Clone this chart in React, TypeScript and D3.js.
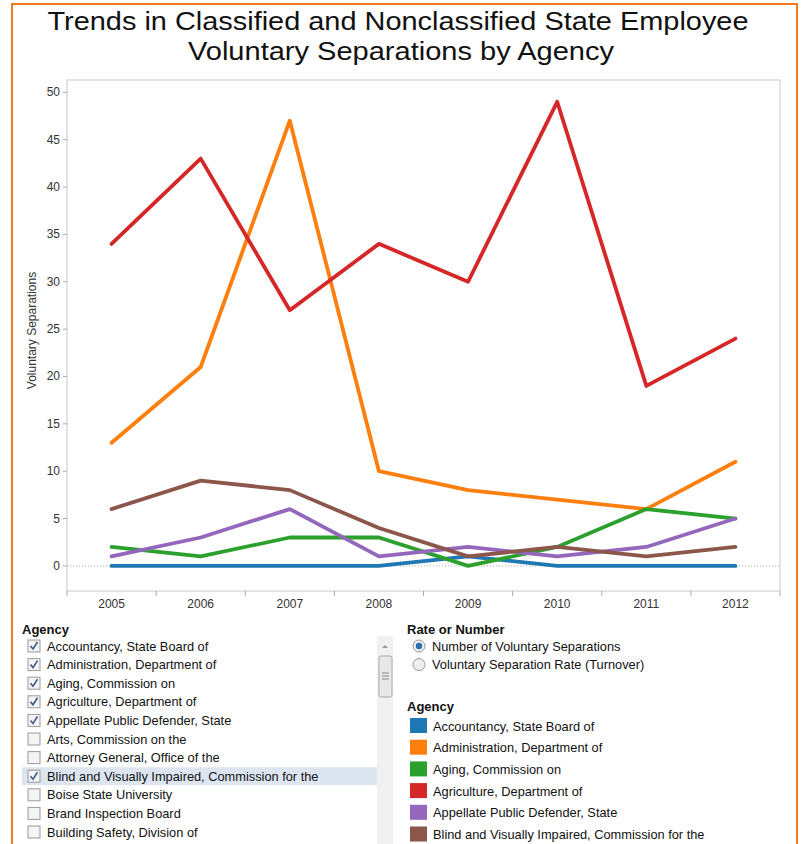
import * as d3 from 'd3'
import { type ReactElement } from 'react'

const years = ['2005', '2006', '2007', '2008', '2009', '2010', '2011', '2012']

const agencies = [
  'Accountancy, State Board of',
  'Administration, Department of',
  'Aging, Commission on',
  'Agriculture, Department of',
  'Appellate Public Defender, State',
  'Blind and Visually Impaired, Commission for the',
]

const accountancy = [0, 0, 0, 0, 1, 0, 0, 0]
const administration = [13, 21, 47, 10, 8, 7, 6, 11]
const aging = [2, 1, 3, 3, 0, 2, 6, 5]
const agriculture = [34, 43, 27, 34, 30, 49, 19, 24]
const appellate = [1, 3, 6, 1, 2, 1, 2, 5]
const blind = [6, 9, 8, 4, 1, 2, 1, 2]

const seriesValues = [accountancy, administration, aging, agriculture, appellate, blind]
const seriesColors = ['#1f77b4', '#ff7f0e', '#2ca02c', '#d62728', '#9467bd', '#8c564b']

const yTicks = [0, 5, 10, 15, 20, 25, 30, 35, 40, 45, 50]

const filterList = [
  { name: 'Accountancy, State Board of', checked: true },
  { name: 'Administration, Department of', checked: true },
  { name: 'Aging, Commission on', checked: true },
  { name: 'Agriculture, Department of', checked: true },
  { name: 'Appellate Public Defender, State', checked: true },
  { name: 'Arts, Commission on the', checked: false },
  { name: 'Attorney General, Office of the', checked: false },
  { name: 'Blind and Visually Impaired, Commission for the', checked: true },
  { name: 'Boise State University', checked: false },
  { name: 'Brand Inspection Board', checked: false },
  { name: 'Building Safety, Division of', checked: false },
  { name: '', checked: false },
]

const rateOptions = ['Number of Voluntary Separations', 'Voluntary Separation Rate (Turnover)']

const titleLines = [
  'Trends in Classified and Nonclassified State Employee',
  'Voluntary Separations by Agency',
]

const font = '"Liberation Sans", Arial, sans-serif'

export default function App(): ReactElement {
  const width = 802
  const height = 844
  const plot = { left: 67, right: 780, top: 80, bottom: 591 }

  const x = d3.scaleBand<string>().domain(years).range([plot.left, plot.right])
  const y = d3.scaleLinear().domain([-2.65, 51.3]).range([plot.bottom, plot.top])

  const line = d3
    .line<number>()
    .x((_, i) => (x(years[i]) ?? 0) + x.bandwidth() / 2)
    .y((d) => y(d))

  const rowY = d3.scaleLinear().domain([0, 1]).range([646, 664.6])
  const legendY = d3.scaleLinear().domain([0, 1]).range([726, 747.7])

  return (
    <div style={{ position: 'absolute', left: 0, top: 0 }}>
      <svg width={width} height={height} style={{ display: 'block', fontFamily: font }}>
        <rect width={width} height={height} fill="#fff" />
        {/* frame */}
        <rect x={12} y={4} width={785} height={880} fill="none" stroke="#f07d1a" strokeWidth={2} />

        <text
          x={398}
          y={30}
          textAnchor="middle"
          fontSize={25}
          fill="#111"
          textLength={701}
          lengthAdjust="spacingAndGlyphs"
        >
          {titleLines[0]}
        </text>
        <text
          x={401}
          y={60}
          textAnchor="middle"
          fontSize={25}
          fill="#111"
          textLength={426}
          lengthAdjust="spacingAndGlyphs"
        >
          {titleLines[1]}
        </text>

        {/* plot frame */}
        <rect
          x={plot.left}
          y={plot.top}
          width={plot.right - plot.left}
          height={plot.bottom - plot.top}
          fill="none"
          stroke="#c8c8c8"
        />
        <line x1={plot.left} x2={plot.right} y1={y(0)} y2={y(0)} stroke="#aaa" strokeDasharray="1,2" />

        {yTicks.map((t) => (
          <g key={t}>
            <line x1={plot.left - 4} x2={plot.left} y1={y(t)} y2={y(t)} stroke="#aaa" />
            <text x={plot.left - 7} y={y(t) + 4} textAnchor="end" fontSize={12} fill="#333">
              {t}
            </text>
          </g>
        ))}
        <text
          transform={`translate(36,${(plot.top + plot.bottom) / 2 - 5}) rotate(-90)`}
          textAnchor="middle"
          fontSize={12}
          fill="#333"
        >
          Voluntary Separations
        </text>

        {years.map((yr) => (
          <g key={yr}>
            <line
              x1={x(yr)}
              x2={x(yr)}
              y1={plot.bottom}
              y2={plot.bottom + 5}
              stroke="#aaa"
            />
            <text
              x={(x(yr) ?? 0) + x.bandwidth() / 2}
              y={plot.bottom + 17}
              textAnchor="middle"
              fontSize={12}
              fill="#333"
            >
              {yr}
            </text>
          </g>
        ))}
        <line x1={plot.right} x2={plot.right} y1={plot.bottom} y2={plot.bottom + 5} stroke="#aaa" />

        {seriesValues.map((vals, i) => (
          <path
            key={agencies[i]}
            d={line(vals) ?? ''}
            fill="none"
            stroke={seriesColors[i]}
            strokeWidth={3.8}
            strokeLinejoin="round"
            strokeLinecap="round"
          />
        ))}

        {/* agency filter */}
        <text x={22} y={634} fontSize={13} fontWeight="bold" fill="#111">
          Agency
        </text>
        {filterList.map((f, i) => {
          const cy = rowY(i)
          return (
            <g key={i}>
              {f.name === 'Blind and Visually Impaired, Commission for the' && (
                <rect x={22} y={cy - 9} width={355} height={18} fill="#dde6f0" />
              )}
              <rect x={28} y={cy - 6} width={12} height={12} fill="#f4f4f4" stroke="#9a9a9a" />
              {f.checked && (
                <path
                  d={`M${30.5},${cy} L${33},${cy + 3} L${37.5},${cy - 4}`}
                  fill="none"
                  stroke="#3c5a8c"
                  strokeWidth={1.6}
                />
              )}
              <text x={47} y={cy + 4.5} fontSize={12.8} fill="#111">
                {f.name}
              </text>
            </g>
          )
        })}
        {/* scrollbar */}
        <rect x={377} y={636} width={16} height={220} fill="#f0f0f0" />
        <path d="M382,648 L385,645 L388,648 Z" fill="#999" />
        <rect x={379} y={656} width={13} height={41} rx={2} fill="#e8e8e8" stroke="#a8a8a8" />
        <line x1={382} x2={389} y1={673} y2={673} stroke="#888" />
        <line x1={382} x2={389} y1={676} y2={676} stroke="#888" />
        <line x1={382} x2={389} y1={679} y2={679} stroke="#888" />

        {/* rate or number */}
        <text x={407} y={634} fontSize={13} fontWeight="bold" fill="#111">
          Rate or Number
        </text>
        {rateOptions.map((opt, i) => {
          const cy = rowY(i)
          return (
            <g key={opt}>
              <circle cx={419} cy={cy} r={6} fill="#eee" stroke="#999" />
              {i === 0 && <circle cx={419} cy={cy} r={3.2} fill="#2a6fb0" />}
              <text x={432} y={cy + 4.5} fontSize={12.8} fill="#111">
                {opt}
              </text>
            </g>
          )
        })}

        {/* color legend */}
        <text x={407} y={711} fontSize={13} fontWeight="bold" fill="#111">
          Agency
        </text>
        {agencies.map((a, i) => {
          const cy = legendY(i)
          return (
            <g key={a}>
              <rect x={410} y={cy - 8} width={17} height={15} fill={seriesColors[i]} />
              <text x={433} y={cy + 4.5} fontSize={12.8} fill="#111">
                {a}
              </text>
            </g>
          )
        })}
      </svg>
    </div>
  )
}
